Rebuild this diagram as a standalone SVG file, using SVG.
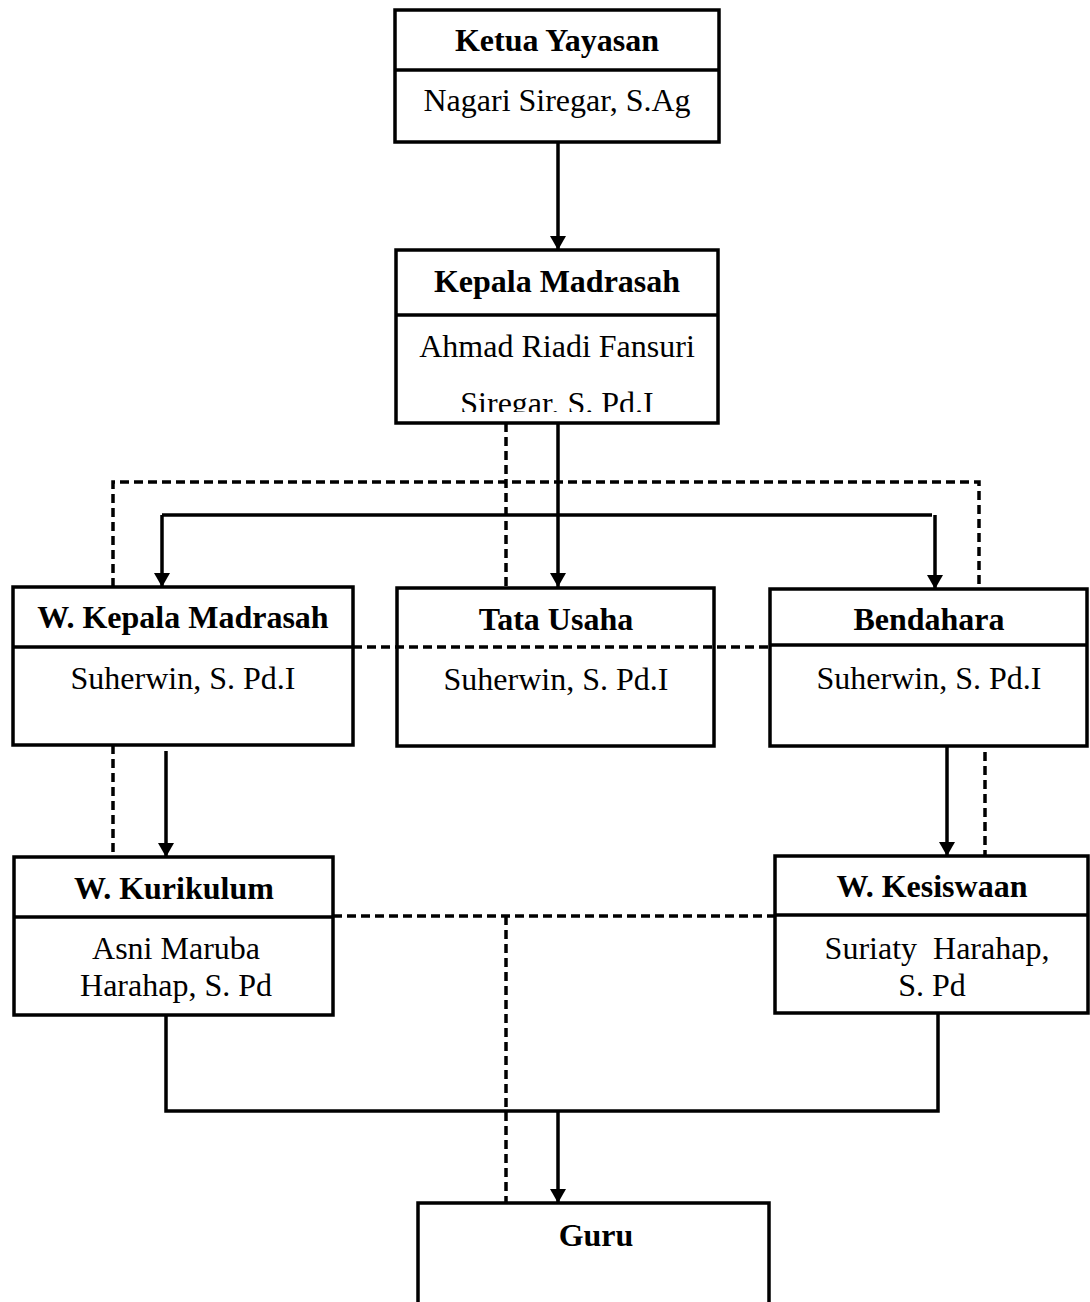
<svg xmlns="http://www.w3.org/2000/svg" width="1090" height="1302" viewBox="0 0 1090 1302">
<style>
.box{fill:#fff;stroke:#000;stroke-width:3.5}
.div{stroke:#000;stroke-width:3.5}
.t{font-family:"Liberation Serif","Times New Roman",serif;font-size:32px;fill:#000;text-anchor:middle}
.b{font-weight:bold}
.c{fill:none;stroke:#000;stroke-width:3.5}
.d{fill:none;stroke:#000;stroke-width:3.5;stroke-dasharray:9 5}
</style>
<defs>
<marker id="ah" markerUnits="userSpaceOnUse" viewBox="0 0 14 16" refX="14" refY="8" markerWidth="14" markerHeight="16" orient="auto">
<path d="M0,0 L14,8 L0,16 z" fill="#000"/>
</marker>
<clipPath id="kclip"><rect x="396" y="250" width="322" height="162"/></clipPath>
</defs>
<rect width="1090" height="1302" fill="#fff"/>
<g id="connectors">
<line class="c" x1="558" y1="142" x2="558" y2="250" marker-end="url(#ah)"/>
<line class="c" x1="558" y1="423" x2="558" y2="587" marker-end="url(#ah)"/>
<path class="d" d="M506,423 V588"/>
<path class="d" d="M113,587 V482 H979 V589"/>
<path class="c" d="M162,515 H932"/>
<line class="c" x1="162" y1="515" x2="162" y2="587" marker-end="url(#ah)"/>
<line class="c" x1="935" y1="515" x2="935" y2="589" marker-end="url(#ah)"/>
<path class="d" d="M353,647 H770"/>
<path class="d" d="M113,745 V857"/>
<line class="c" x1="166" y1="751" x2="166" y2="857" marker-end="url(#ah)"/>
<line class="c" x1="947" y1="746" x2="947" y2="856" marker-end="url(#ah)"/>
<path class="d" d="M985,752 V858"/>
<path class="d" d="M333,916 H775"/>
<path class="d" d="M506,916 V1203"/>
<path class="c" d="M166,1015 V1111 H938 V1013"/>
<line class="c" x1="558" y1="1111" x2="558" y2="1203" marker-end="url(#ah)"/>
</g>
<g id="ketua">
<rect class="box" x="395" y="10" width="324" height="132"/>
<line class="div" x1="395" y1="70" x2="719" y2="70"/>
<text class="t b" x="557" y="51">Ketua Yayasan</text>
<text class="t" x="557" y="111">Nagari Siregar, S.Ag</text>
</g>
<g id="kepala">
<rect class="box" x="396" y="250" width="322" height="173"/>
<line class="div" x1="396" y1="315" x2="718" y2="315"/>
<text class="t b" x="557" y="292">Kepala Madrasah</text>
<text class="t" x="557" y="357">Ahmad Riadi Fansuri</text>
<text class="t" x="557" y="414" clip-path="url(#kclip)">Siregar, S. Pd.I</text>
</g>
<g id="wkepala">
<rect class="box" x="13" y="587" width="340" height="158"/>
<line class="div" x1="13" y1="647" x2="353" y2="647"/>
<text class="t b" x="183" y="628">W. Kepala Madrasah</text>
<text class="t" x="183" y="689">Suherwin, S. Pd.I</text>
</g>
<g id="tatausaha">
<rect class="box" x="397" y="588" width="317" height="158" fill="none" style="fill:none"/>
<text class="t b" x="556" y="630">Tata Usaha</text>
<text class="t" x="556" y="690">Suherwin, S. Pd.I</text>
</g>
<g id="bendahara">
<rect class="box" x="770" y="589" width="317" height="157"/>
<line class="div" x1="770" y1="645" x2="1087" y2="645"/>
<text class="t b" x="929" y="630">Bendahara</text>
<text class="t" x="929" y="689">Suherwin, S. Pd.I</text>
</g>
<g id="kurikulum">
<rect class="box" x="14" y="857" width="319" height="158"/>
<line class="div" x1="14" y1="917" x2="333" y2="917"/>
<text class="t b" x="174" y="899">W. Kurikulum</text>
<text class="t" x="176" y="959">Asni Maruba</text>
<text class="t" x="176" y="996">Harahap, S. Pd</text>
</g>
<g id="kesiswaan">
<rect class="box" x="775" y="856" width="313" height="157"/>
<line class="div" x1="775" y1="915" x2="1088" y2="915"/>
<text class="t b" x="932" y="897">W. Kesiswaan</text>
<text class="t" x="937" y="959" xml:space="preserve">Suriaty  Harahap,</text>
<text class="t" x="932" y="996">S. Pd</text>
</g>
<g id="guru">
<rect class="box" x="418" y="1203" width="351" height="110"/>
<text class="t b" x="596" y="1246">Guru</text>
</g>
</svg>
